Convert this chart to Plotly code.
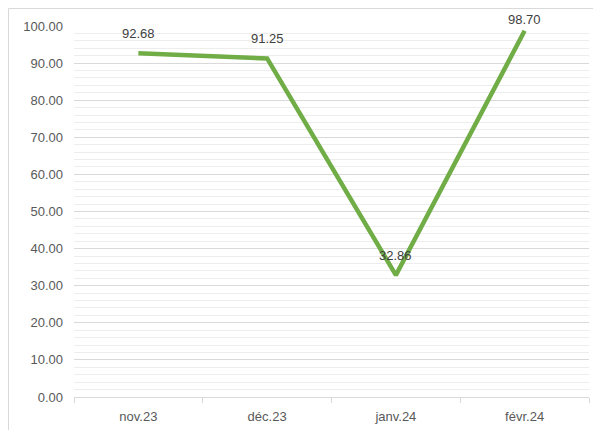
import plotly.graph_objects as go

categories = ["nov.23", "déc.23", "janv.24", "févr.24"]
values = [92.68, 91.25, 32.86, 98.70]
label_texts = ["92.68", "91.25", "32.86", "98.70"]
y_ticks = [0, 10, 20, 30, 40, 50, 60, 70, 80, 90, 100]
y_tick_labels = ["%.2f" % v for v in y_ticks]

# the page body adds an 8px offset, so the figure is sized to fill the rest
W, H = 593, 422
L, R, T, B = 66, 12, 18, 33

fig = go.Figure()
fig.add_trace(go.Scatter(
    x=categories, y=values, mode="lines",
    line=dict(color="#70AD47", width=4.5),
    hoverinfo="skip",
))

for i, (c, v, t) in enumerate(zip(categories, values, label_texts)):
    shift = 11 if i == len(values) - 1 else 20
    fig.add_annotation(x=c, y=v, text=t, showarrow=False, yshift=shift,
                       font=dict(family="Liberation Sans, Arial", size=13, color="#404040"))

pw = W - L - R
ph = H - T - B
fig.add_shape(type="rect", xref="paper", yref="paper",
              x0=(0.5 - L) / pw, x1=(W + 40 - L) / pw,
              y0=-(60 + B) / ph, y1=1 + (T - 0.5) / ph,
              line=dict(color="#D9D9D9", width=1), layer="below")

fig.update_layout(
    width=W, height=H,
    margin=dict(l=L, r=R, t=T, b=B, autoexpand=False),
    paper_bgcolor="white", plot_bgcolor="white",
    showlegend=False,
    font=dict(family="Liberation Sans, Arial", size=13, color="#595959"),
)
fig.update_xaxes(
    type="category", range=[-0.5, 3.5], automargin=False,
    showgrid=False, showline=True, linecolor="#D9D9D9", linewidth=1,
    ticks="outside", tickson="boundaries", ticklen=5, tickcolor="#D9D9D9",
    ticklabelstandoff=7,
    tickfont=dict(size=13, color="#595959"),
)
fig.update_yaxes(
    range=[0, 100], tickvals=y_ticks, ticktext=y_tick_labels, automargin=False,
    showgrid=True, gridcolor="#D9D9D9", gridwidth=1,
    zeroline=False, showline=False, ticks="",
    ticklabelstandoff=10,
    tickfont=dict(size=13, color="#595959"),
    minor=dict(dtick=2, showgrid=True, gridcolor="#EDEDED", gridwidth=1),
)

fig.write_html("out.html")
